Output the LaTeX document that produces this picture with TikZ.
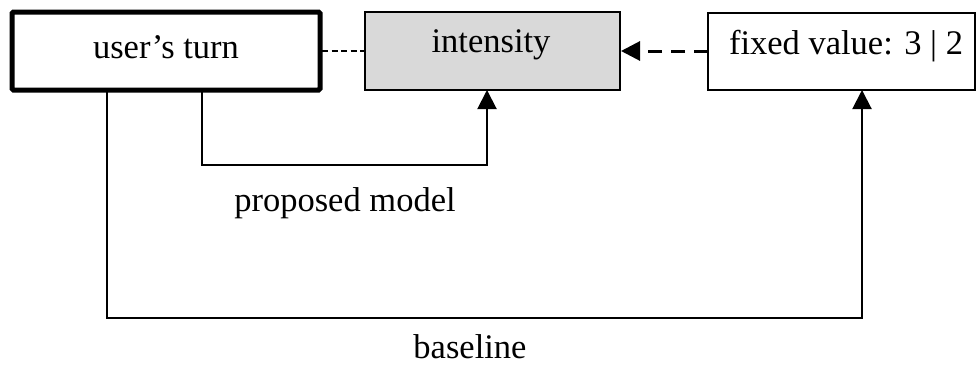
\documentclass[tikz,border=0pt]{standalone}
\usepackage{fontspec}
\setmainfont{Liberation Serif}
\usetikzlibrary{arrows.meta}
\begin{document}
\begin{tikzpicture}[x=1pt,y=-1pt,
  lbl/.style={font=\fontsize{34.5}{40}\selectfont, inner sep=0pt},
  boxA/.style={draw, line width=5pt, rounded corners=1.5pt},
  boxB/.style={draw, line width=1.5pt},
  conn/.style={line width=2pt},
  tip/.style={-{Triangle[length=19pt,width=19pt]}}
]
\useasboundingbox (0,0) rectangle (977,367);
% boxes
\draw[boxA] (12,12) rectangle (320,90);
\node[lbl] (user) at (166,47) {user’s turn};
\coordinate (userR) at (322,51);
\coordinate (userB1) at (107,92);
\coordinate (userB2) at (202,92);
\filldraw[boxB, fill=black!15] (365,12) rectangle (620,90);
\node[lbl] (int) at (491,45) {intensity};
\coordinate (intL) at (365,51);
\coordinate (intR) at (621,51);
\coordinate (intB) at (487,90);
\draw[boxB] (708,13) rectangle (975,90);
\node[lbl] (fix) at (846,46) {fixed value: 3 | 2};
\coordinate (fixL) at (708,51);
\coordinate (fixB) at (862,90);
% connectors
\draw[line width=1.6pt, dash pattern=on 6pt off 3.5pt] (userR) -- (intL);
\draw[line width=3pt, dash pattern=on 14pt off 9pt, tip] (fixL) -- (intR);
\draw[conn, tip] (userB2) |- (345,165) -| (intB);
\draw[conn, tip] (userB1) |- (470,318) -| (fixB);
% labels
\node[lbl] (pm) at (345,203) {proposed model};
\node[lbl] (bl) at (470,347) {baseline};
\end{tikzpicture}
\end{document}
